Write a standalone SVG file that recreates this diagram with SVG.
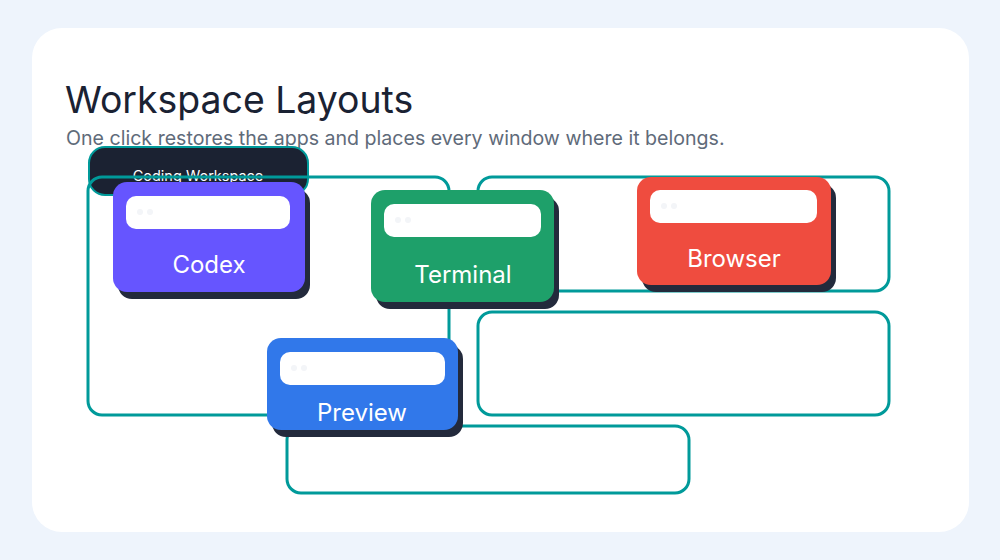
<svg xmlns="http://www.w3.org/2000/svg" width="1000" height="560" viewBox="0 0 1000 560">
<style>
text{font-family:Inter,"Liberation Sans",sans-serif}
.zone{fill:none;stroke:#009a9a;stroke-width:3}
.shadow{fill:#232a3c}
.bar{fill:#fff}
.dot{fill:#f3f5f8}
.lbl{fill:#fff;font-size:24px;text-anchor:middle}
</style>
<rect width="1000" height="560" fill="#eef4fc"/>
<rect x="32" y="28" width="937" height="504" rx="30" fill="#fff"/>
<text x="65" y="113" font-size="37.4" fill="#1a2233">Workspace Layouts</text>
<text x="66" y="145" font-size="19.6" fill="#5f6b7a">One click restores the apps and places every window where it belongs.</text>
<g id="label">
<rect x="89" y="147" width="219" height="48" rx="16" fill="#1b2232" stroke="#009a9a" stroke-width="2"/>
<text x="198" y="181" font-size="14.5" fill="#fff" text-anchor="middle">Coding Workspace</text>
</g>
<g id="zones">
<rect class="zone" x="88" y="177" width="361" height="238" rx="14"/>
<rect class="zone" x="478" y="177" width="411" height="114" rx="14"/>
<rect class="zone" x="478" y="312" width="411" height="103" rx="14"/>
<rect class="zone" x="287" y="426" width="402" height="67" rx="14"/>
</g>
<g id="codex">
<rect class="shadow" x="118" y="189" width="192" height="110" rx="14"/>
<rect x="113" y="182" width="192" height="110" rx="14" fill="#6655ff"/>
<rect class="bar" x="126" y="196" width="164" height="33" rx="10"/>
<circle class="dot" cx="140" cy="212" r="3"/><circle class="dot" cx="150" cy="212" r="3"/>
<text class="lbl" x="209" y="273">Codex</text>
</g>
<g id="terminal">
<rect class="shadow" x="376" y="197" width="183" height="112" rx="14"/>
<rect x="371" y="190" width="183" height="112" rx="14" fill="#1ea06a"/>
<rect class="bar" x="384" y="204" width="157" height="33" rx="10"/>
<circle class="dot" cx="398" cy="220" r="3"/><circle class="dot" cx="408" cy="220" r="3"/>
<text class="lbl" x="463" y="283">Terminal</text>
</g>
<g id="browser">
<rect class="shadow" x="642" y="184" width="194" height="108" rx="14"/>
<rect x="637" y="177" width="194" height="108" rx="14" fill="#ef4c3f"/>
<rect class="bar" x="650" y="190" width="167" height="33" rx="10"/>
<circle class="dot" cx="664" cy="206" r="3"/><circle class="dot" cx="674" cy="206" r="3"/>
<text class="lbl" x="734" y="267">Browser</text>
</g>
<g id="preview">
<rect class="shadow" x="272" y="345" width="191" height="92" rx="14"/>
<rect x="267" y="338" width="191" height="92" rx="14" fill="#3178ea"/>
<rect class="bar" x="280" y="352" width="165" height="33" rx="10"/>
<circle class="dot" cx="294" cy="368" r="3"/><circle class="dot" cx="304" cy="368" r="3"/>
<text class="lbl" x="362" y="421">Preview</text>
</g>
</svg>
